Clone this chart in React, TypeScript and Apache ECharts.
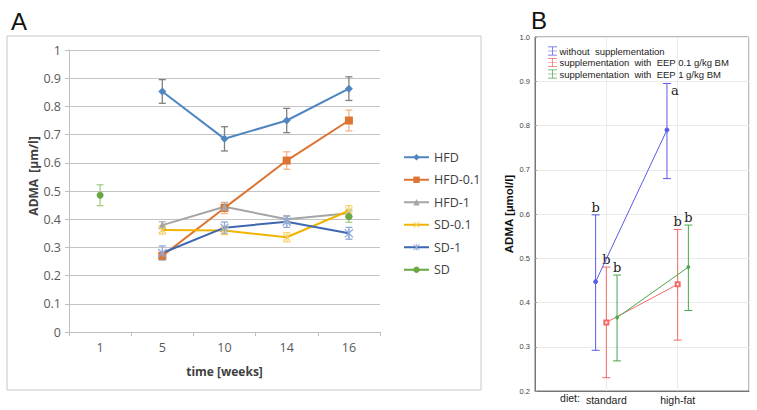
import React, { useEffect, useRef } from 'react';
import * as echarts from 'echarts';

// ---------- Panel A data ----------
const weeks = ['1', '5', '10', '14', '16'];
const yTicksA = [0, 0.1, 0.2, 0.3, 0.4, 0.5, 0.6, 0.7, 0.8, 0.9, 1];
const hfd = [null, 0.853, 0.685, 0.75, 0.863];
const hfdErr = [null, 0.042, 0.043, 0.043, 0.042];
const hfd01 = [null, 0.27, 0.44, 0.608, 0.75];
const hfd01Err = [null, 0.012, 0.02, 0.031, 0.037];
const hfd1 = [null, 0.379, 0.444, 0.4, 0.421];
const hfd1Err = [null, 0.012, 0.014, 0.012, 0.012];
const sd01 = [null, 0.362, 0.36, 0.336, 0.43];
const sd01Err = [null, 0.015, 0.015, 0.016, 0.018];
const sd1 = [null, 0.28, 0.37, 0.391, 0.35];
const sd1Err = [null, 0.025, 0.02, 0.02, 0.021];
const sd = [0.485, null, null, null, 0.409];
const sdErr = [0.037, null, null, null, 0.02];

// ---------- Panel B data ----------
const diets = ['standard', 'high-fat'];
const groupsB = [
  'without  supplementation',
  'supplementation  with  EEP 0.1 g/kg BM',
  'supplementation  with  EEP 1 g/kg BM',
];
const withoutMean = [0.447, 0.79];
const withoutLow = [0.292, 0.68];
const withoutHigh = [0.598, 0.895];
const withoutLetters = ['b', 'a'];
const eep01Mean = [0.355, 0.441];
const eep01Low = [0.23, 0.315];
const eep01High = [0.48, 0.565];
const eep01Letters = ['b', 'b'];
const eep1Mean = [0.366, 0.48];
const eep1Low = [0.268, 0.382];
const eep1High = [0.462, 0.575];
const eep1Letters = ['b', 'b'];

const XSYM = 'path://M0,1L1,0L5,4L9,0L10,1L6,5L10,9L9,10L5,6L1,10L0,9L4,5Z';
const ASTER = 'path://M0,1L1,0L5,4L9,0L10,1L6,5L10,9L9,10L5,6L1,10L0,9L4,5Z M4.4,0L5.6,0L5.6,10L4.4,10Z';
const LEG_B = 'path://M0,0L10,0L10,0.8L5.4,0.8L5.4,4.6L10,4.6L10,5.4L5.4,5.4L5.4,9.2L10,9.2L10,10L0,10L0,9.2L4.6,9.2L4.6,5.4L0,5.4L0,4.6L4.6,4.6L4.6,0.8L0,0.8Z';

const styleA = [
  { name: 'HFD', values: hfd, err: hfdErr, color: '#4f86c0', errColor: '#808080', symbol: 'diamond', size: 8 },
  { name: 'HFD-0.1', values: hfd01, err: hfd01Err, color: '#dd7431', errColor: '#f3b48a', symbol: 'rect', size: 8 },
  { name: 'HFD-1', values: hfd1, err: hfd1Err, color: '#a5a5a5', errColor: '#b8b8b8', symbol: 'triangle', size: 8 },
  { name: 'SD-0.1', values: sd01, err: sd01Err, color: '#f0b400', errColor: '#f7d468', symbol: XSYM, size: 8, symColor: '#f5d060' },
  { name: 'SD-1', values: sd1, err: sd1Err, color: '#3e67b1', errColor: '#8fa9d8', symbol: ASTER, size: 9, symColor: '#8faadc' },
  { name: 'SD', values: sd, err: sdErr, color: '#6aa845', errColor: '#a5cf88', symbol: 'circle', size: 7 },
];

const OFF = 0.15;
const styleB = [
  { name: groupsB[0], mean: withoutMean, low: withoutLow, high: withoutHigh, letters: withoutLetters, color: '#5a5ae6', off: -OFF, symbol: 'circle', size: 4 },
  { name: groupsB[1], mean: eep01Mean, low: eep01Low, high: eep01High, letters: eep01Letters, color: '#f06a6a', off: 0, symbol: 'emptyRect', size: 4 },
  { name: groupsB[2], mean: eep1Mean, low: eep1Low, high: eep1High, letters: eep1Letters, color: '#4aa84a', off: OFF, symbol: 'circle', size: 3 },
];

export default function App() {
  const ref = useRef<HTMLDivElement>(null);
  useEffect(() => {
    if (!ref.current) return;
    const chart = echarts.init(ref.current, null, { renderer: 'svg' });
    const fontA = 'Open Sans, Liberation Sans, sans-serif';
    const fontB = 'Liberation Sans, Arial, sans-serif';

    const series: any[] = [];
    styleA.forEach((s) => {
      series.push({
        type: 'line',
        name: s.name,
        xAxisIndex: 0,
        yAxisIndex: 0,
        data: s.values,
        connectNulls: false,
        symbol: s.symbol,
        symbolSize: s.size,
        showAllSymbol: true,
        lineStyle: { color: s.color, width: 2 },
        itemStyle: { color: (s as any).symColor || s.color },
        z: 3,
      });
      const errData: any[] = [];
      s.values.forEach((v, i) => {
        if (v != null && s.err[i] != null) errData.push([i, v - (s.err[i] as number), v + (s.err[i] as number)]);
      });
      series.push({
        type: 'custom',
        name: s.name + ' err',
        xAxisIndex: 0,
        yAxisIndex: 0,
        silent: true,
        encode: { x: 0, y: [1, 2] },
        data: errData,
        z: 2,
        renderItem: (params: any, api: any) => {
          const lo = api.coord([api.value(0), api.value(1)]);
          const hi = api.coord([api.value(0), api.value(2)]);
          const w = 3.5;
          const st = { stroke: s.errColor, lineWidth: 1.3 };
          return {
            type: 'group',
            children: [
              { type: 'line', shape: { x1: lo[0], y1: lo[1], x2: hi[0], y2: hi[1] }, style: st },
              { type: 'line', shape: { x1: lo[0] - w, y1: lo[1], x2: lo[0] + w, y2: lo[1] }, style: st },
              { type: 'line', shape: { x1: hi[0] - w, y1: hi[1], x2: hi[0] + w, y2: hi[1] }, style: st },
            ],
          };
        },
      });
    });

    styleB.forEach((s) => {
      series.push({
        type: 'line',
        name: s.name,
        xAxisIndex: 1,
        yAxisIndex: 1,
        data: s.mean.map((m, i) => [i + 1 + s.off, m]),
        symbol: s.symbol,
        symbolSize: s.size,
        lineStyle: { color: s.color, width: 1 },
        itemStyle: { color: s.color, borderColor: s.color, borderWidth: 1 },
        z: 3,
      });
      series.push({
        type: 'custom',
        name: s.name + ' err',
        xAxisIndex: 1,
        yAxisIndex: 1,
        silent: true,
        encode: { x: 0, y: [1, 2] },
        data: s.mean.map((m, i) => [i + 1 + s.off, s.low[i], s.high[i], i]),
        z: 2,
        renderItem: (params: any, api: any) => {
          const idx = api.value(3);
          const lo = api.coord([api.value(0), api.value(1)]);
          const hi = api.coord([api.value(0), api.value(2)]);
          const w = 4;
          const st = { stroke: s.color, lineWidth: 1 };
          const letter = s.letters[idx];
          const isA = letter === 'a';
          return {
            type: 'group',
            children: [
              { type: 'line', shape: { x1: lo[0], y1: lo[1], x2: hi[0], y2: hi[1] }, style: st },
              { type: 'line', shape: { x1: lo[0] - w, y1: lo[1], x2: lo[0] + w, y2: lo[1] }, style: st },
              { type: 'line', shape: { x1: hi[0] - w, y1: hi[1], x2: hi[0] + w, y2: hi[1] }, style: st },
              {
                type: 'text',
                x: isA ? hi[0] + 8 : hi[0],
                y: isA ? hi[1] + 1 : hi[1] - 1,
                style: {
                  text: letter,
                  fill: '#222',
                  fontSize: 13,
                  fontFamily: 'DejaVu Serif, Liberation Serif, serif',
                  align: 'center',
                  verticalAlign: isA ? 'top' : 'bottom',
                },
              },
            ],
          };
        },
      });
    });

    const option: any = {
      animation: false,
      backgroundColor: '#ffffff',
      grid: [
        { left: 69, top: 50, width: 311, height: 282 },
        { left: 535, top: 37, width: 214, height: 354, show: true, borderColor: '#777', borderWidth: 1, backgroundColor: 'transparent' },
      ],
      xAxis: [
        {
          type: 'category',
          gridIndex: 0,
          data: weeks,
          boundaryGap: true,
          axisLine: { lineStyle: { color: '#bfbfbf', width: 1 } },
          axisTick: { show: true, length: 4, lineStyle: { color: '#bfbfbf' } },
          axisLabel: { color: '#595959', fontSize: 12.5, fontFamily: fontA, margin: 9 },
          name: 'time [weeks]',
          nameLocation: 'middle',
          nameGap: 33,
          nameTextStyle: { color: '#404040', fontSize: 12, fontWeight: 'bold', fontFamily: fontA },
        },
        {
          type: 'value',
          gridIndex: 1,
          min: 0,
          max: 3,
          interval: 1,
          axisLine: { lineStyle: { color: '#777' } },
          axisTick: { show: false },
          splitLine: { show: true, lineStyle: { color: '#ebebeb', width: 1 } },
          axisLabel: {
            color: '#222',
            fontSize: 10.5,
            fontFamily: fontB,
            margin: 3,
            formatter: (v: number) => (v === 1 ? diets[0] : v === 2 ? diets[1] : ''),
          },
        },
      ],
      yAxis: [
        {
          type: 'value',
          gridIndex: 0,
          min: 0,
          max: 1,
          interval: 0.1,
          axisLine: { show: true, lineStyle: { color: '#bfbfbf' } },
          axisTick: { show: true, length: 4, lineStyle: { color: '#bfbfbf' } },
          splitLine: { lineStyle: { color: '#c4c4c4', width: 1 } },
          axisLabel: {
            color: '#595959',
            fontSize: 12.5,
            fontFamily: fontA,
            margin: 8,
            formatter: (v: number) => {
              const t = yTicksA.find((k) => Math.abs(k - v) < 1e-9);
              return t == null ? '' : String(t);
            },
          },
        },
        {
          type: 'value',
          gridIndex: 1,
          min: 0.2,
          max: 1.0,
          interval: 0.1,
          axisLine: { show: true, lineStyle: { color: '#777' } },
          axisTick: { show: true, inside: true, length: 2, lineStyle: { color: '#999' } },
          splitLine: { show: true, lineStyle: { color: '#ebebeb', width: 1 } },
          axisLabel: {
            color: '#444',
            fontSize: 7.5,
            fontFamily: fontB,
            margin: 5,
            formatter: (v: number) => v.toFixed(1),
          },
          name: 'ADMA [µmol/l]',
          nameLocation: 'middle',
          nameGap: 20,
          nameRotate: 90,
          nameTextStyle: { color: '#111', fontSize: 11.5, fontWeight: 'bold', fontFamily: fontB },
        },
      ],
      legend: [
        {
          orient: 'vertical',
          left: 398,
          top: 145,
          itemWidth: 25,
          itemHeight: 8,
          itemGap: 8,
          data: styleA.map((s) => s.name),
          textStyle: { color: '#404040', fontSize: 12.5, fontFamily: fontA, lineHeight: 14.5 },
          selectedMode: false,
        },
        {
          orient: 'vertical',
          left: 543,
          top: 41,
          itemWidth: 10,
          itemHeight: 9,
          itemGap: 1.5,
          itemStyle: { borderWidth: 0 },
          lineStyle: { width: 0 },
          icon: LEG_B,
          data: styleB.map((s) => s.name),
          textStyle: { color: '#222', fontSize: 9.5, fontFamily: fontB, lineHeight: 9.5, padding: [0, 0, 0, -3] },
          selectedMode: false,
        },
      ],
      graphic: [
        { type: 'rect', shape: { x: 7, y: 36, width: 474, height: 354 }, style: { fill: 'none', stroke: '#c8c8c8', lineWidth: 1 }, silent: true },
        { type: 'text', x: 11, y: 9, style: { text: 'A', fontSize: 24, fontFamily: 'Liberation Sans, Arial, sans-serif', fill: '#111' } },
        { type: 'text', x: 531, y: 8, style: { text: 'B', fontSize: 24, fontFamily: 'Liberation Sans, Arial, sans-serif', fill: '#111' } },
        {
          type: 'text',
          x: 33,
          y: 176,
          rotation: Math.PI / 2,
          style: { text: 'ADMA  [µm/l]', fontSize: 12, fontWeight: 'bold', fontFamily: fontA, fill: '#404040', align: 'center', verticalAlign: 'middle' },
        },
        { type: 'text', x: 570, y: 398, style: { text: 'diet:', fontSize: 10.5, fontFamily: fontB, fill: '#222', align: 'center', verticalAlign: 'middle' } },
      ],
      series,
    };
    chart.setOption(option);
    return () => chart.dispose();
  }, []);
  return <div ref={ref} style={{ position: 'fixed', left: 0, top: 0, width: 757, height: 410 }} />;
}
